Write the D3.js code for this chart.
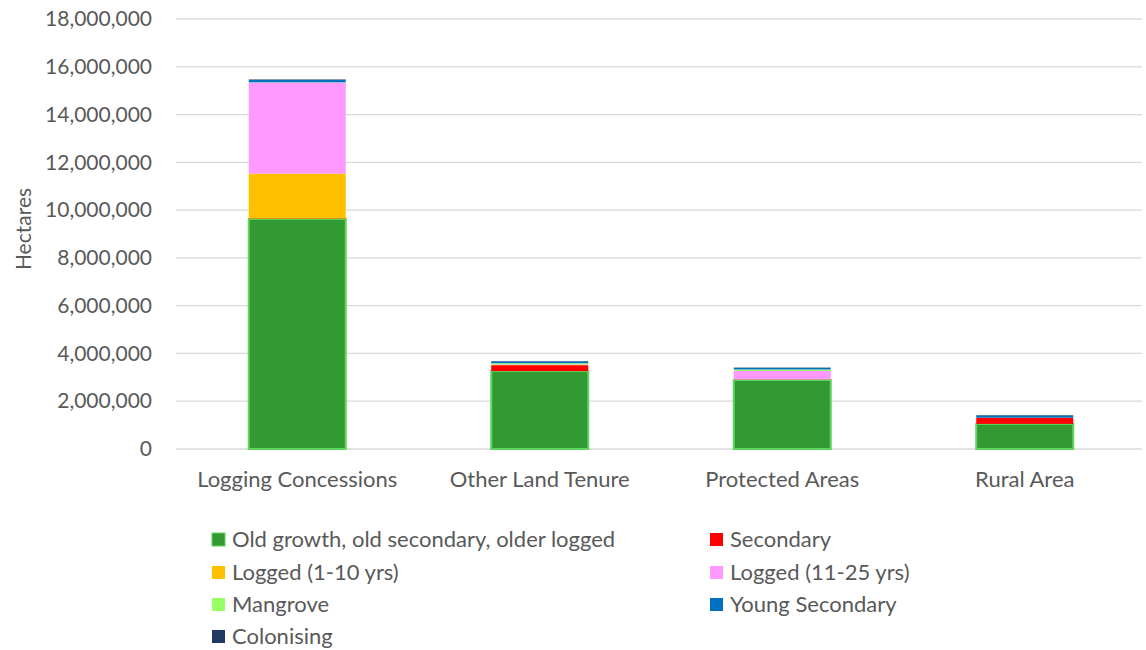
<!DOCTYPE html>
<html>
<head>
<meta charset="utf-8">
<script src="https://cdn.jsdelivr.net/npm/d3@7"></script>
<style>
  body { margin: 0; background: #fff; }
  text { font-family: Lato, "Open Sans", sans-serif; fill: #595959; }
</style>
</head>
<body>
<div id="chart-area"></div>
<script>
// data
const categories = ["Logging Concessions", "Other Land Tenure", "Protected Areas", "Rural Area"];
const seriesNames = ["Old growth, old secondary, older logged", "Secondary", "Logged (1-10 yrs)",
  "Logged (11-25 yrs)", "Mangrove", "Young Secondary", "Colonising"];
const seriesColors = ["#339933", "#ff0000", "#ffc000", "#ff99ff", "#99ff66", "#0070c0", "#203864"];
const oldGrowth   = [9630000, 3260000, 2890000, 1050000];
const secondary   = [20000, 250000, 10000, 260000];
const logged1to10 = [1880000, 10000, 10000, 0];
const logged11to25 = [3810000, 20000, 360000, 0];
const mangrove    = [10000, 50000, 60000, 0];
const youngSecondary = [100000, 80000, 70000, 100000];
const colonising  = [20000, 10000, 10000, 10000];
const yTicks = [0, 2000000, 4000000, 6000000, 8000000, 10000000, 12000000, 14000000, 16000000, 18000000];

const seriesValues = [oldGrowth, secondary, logged1to10, logged11to25, mangrove, youngSecondary, colonising];
const table = categories.map((c, i) => {
  const row = { category: c };
  seriesNames.forEach((s, j) => row[s] = seriesValues[j][i]);
  return row;
});

// graph area
const canvas = { width: 1146, height: 650 };
const margin = { left: 176, right: 0, top: 19, bottom: 201 };
const graph = { width: canvas.width - margin.left - margin.right, height: canvas.height - margin.top - margin.bottom };

const svg = d3.select("#chart-area").append("svg").attr("width", canvas.width).attr("height", canvas.height);
const g = svg.append("g").attr("transform", "translate(" + margin.left + "," + margin.top + ")");

// scales
const x = d3.scaleBand().domain(categories).range([0, graph.width]).paddingInner(0.6).paddingOuter(0.3);
const y = d3.scaleLinear().domain([0, 18000000]).range([graph.height, 0]);
const color = d3.scaleOrdinal().domain(seriesNames).range(seriesColors);

// gridlines
g.selectAll("line.grid").data(yTicks).enter().append("line").attr("class", "grid")
  .attr("x1", 0).attr("x2", graph.width - 4).attr("y1", d => y(d)).attr("y2", d => y(d))
  .attr("stroke", "#d9d9d9").attr("stroke-width", 1.3);

// y axis
const yAxisCall = d3.axisLeft(y).tickValues(yTicks).tickFormat(d3.format(",")).tickSize(0).tickPadding(24);
const yAxis = g.append("g").call(yAxisCall);
yAxis.select(".domain").remove();
yAxis.selectAll("text").attr("font-size", 21).style("font-family", "Lato").style("fill", "#595959");

// x axis
const xAxisCall = d3.axisBottom(x).tickSize(0).tickPadding(22);
const xAxis = g.append("g").attr("transform", "translate(0," + graph.height + ")").call(xAxisCall);
xAxis.select(".domain").remove();
xAxis.selectAll("text").attr("font-size", 22).style("font-family", "Lato").style("fill", "#595959");

// y label
svg.append("text").attr("transform", "rotate(-90)").attr("x", -229).attr("y", 31)
  .attr("text-anchor", "middle").attr("font-size", 21).text("Hectares");

// bars
const stacked = d3.stack().keys(seriesNames)(table);
g.selectAll("g.layer").data(stacked).enter().append("g").attr("class", "layer")
  .attr("fill", d => color(d.key))
  .attr("stroke", d => d.key === seriesNames[0] ? "#5cd65c" : "none")
  .attr("stroke-width", 2)
  .selectAll("rect").data(d => d).enter().append("rect")
  .attr("x", d => x(d.data.category))
  .attr("width", x.bandwidth())
  .attr("y", d => y(d[1]))
  .attr("height", d => Math.max(0, y(d[0]) - y(d[1])));

// legend
const legendPos = [[212, 539], [710, 539], [212, 572], [710, 572], [212, 604], [710, 604], [212, 636]];
const legend = svg.selectAll("g.legend").data(seriesNames).enter().append("g").attr("class", "legend")
  .attr("transform", (d, i) => "translate(" + legendPos[i][0] + "," + legendPos[i][1] + ")");
legend.append("rect").attr("x", 0).attr("y", -6).attr("width", 13).attr("height", 13)
  .attr("fill", d => color(d))
  .attr("stroke", (d, i) => i === 0 ? "#5cd65c" : "none").attr("stroke-width", 1);
legend.append("text").attr("x", 20).attr("y", 0).attr("dy", "0.35em").attr("font-size", 22).text(d => d);
</script>
</body>
</html>
